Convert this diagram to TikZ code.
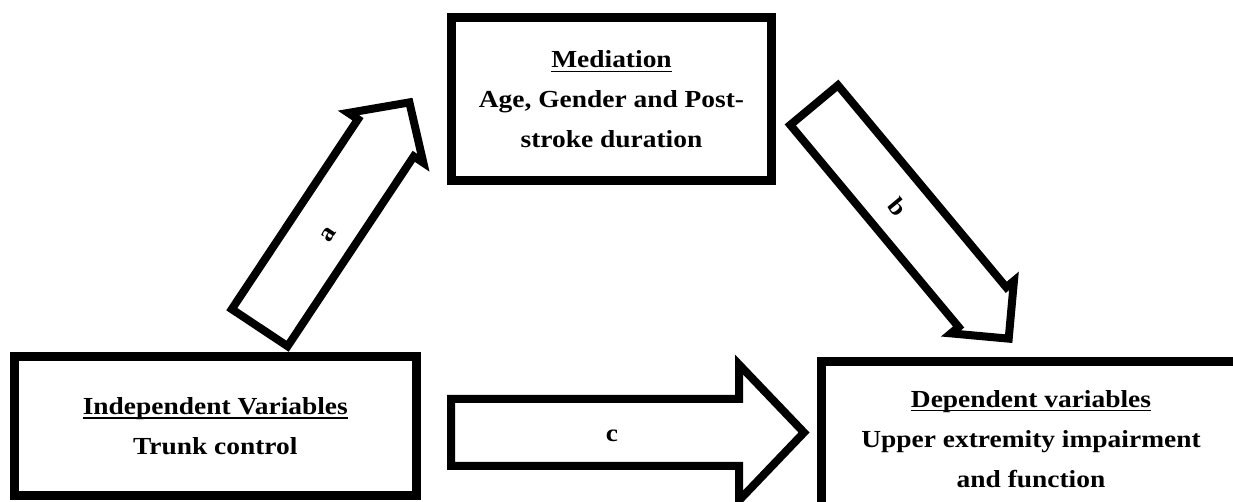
\documentclass[tikz,border=0pt]{standalone}
\usepackage{fontspec}
\setmainfont[FakeStretch=1.12]{Liberation Serif}
\usetikzlibrary{calc}
\newsavebox\myulbox
\newcommand\myul[1]{\leavevmode\sbox\myulbox{#1}\rlap{\rule[-4.2pt]{\wd\myulbox}{1.4pt}}\usebox\myulbox}
\begin{document}
\begin{tikzpicture}[x=1pt,y=1pt,
  box/.style={draw, line width=9pt, align=center, inner sep=0pt,
    font=\fontsize{24.5}{40}\selectfont\bfseries},
  barrow/.style={draw, line width=8pt, line join=miter},
  lbl/.style={font=\fontsize{24.5}{30}\selectfont\bfseries, inner sep=0pt, transform shape}]
\clip (0,0) rectangle (1233,502);
% boxes
\node[box, minimum width=401.7pt, minimum height=139.2pt] (ind) at (215.3,75.7)
  {\myul{Independent Variables}\\Trunk control};
\node[box, minimum width=320pt, minimum height=163pt] (med) at (611.5,402.5)
  {\myul{Mediation}\\Age, Gender and Post-\\stroke duration};
\node[box, minimum width=419pt, minimum height=153.4pt] (dep) at (1031,63.3)
  {\myul{Dependent variables}\\Upper extremity impairment\\and function};
% arrow tails
\coordinate (aTail) at ($(ind.north)+(44.4,24.5)$);
\coordinate (bTail) at ($(med.east)+(38.1,-5.6)$);
\coordinate (cTail) at ($(ind.east)+(30.35,-6.2)$);
% arrow a
\begin{scope}[shift={(aTail)}, rotate=56.4]
  \draw[barrow] (0,-33.5) -- (228,-33.5) -- (228,-45) -- (270.5,0) -- (228,45) -- (228,33.5) -- (0,33.5) -- cycle;
  \node[lbl] (la) at (115.6,-6.4) {a};
\end{scope}
% arrow b
\begin{scope}[shift={(bTail)}, rotate=-50.2]
  \draw[barrow] (0,-31) -- (263,-31) -- (263,-41) -- (304,0) -- (263,41) -- (263,31) -- (0,31) -- cycle;
  \node[lbl] (lb) at (132,-0.8) {b};
\end{scope}
% arrow c
\begin{scope}[shift={(cTail)}]
  \draw[barrow] (0,-33.5) -- (288,-33.5) -- (288,-68) -- (353,0) -- (288,68) -- (288,33.5) -- (0,33.5) -- cycle;
  \node[lbl] (lc) at (161,-3.5) {c};
\end{scope}
\end{tikzpicture}
\end{document}
